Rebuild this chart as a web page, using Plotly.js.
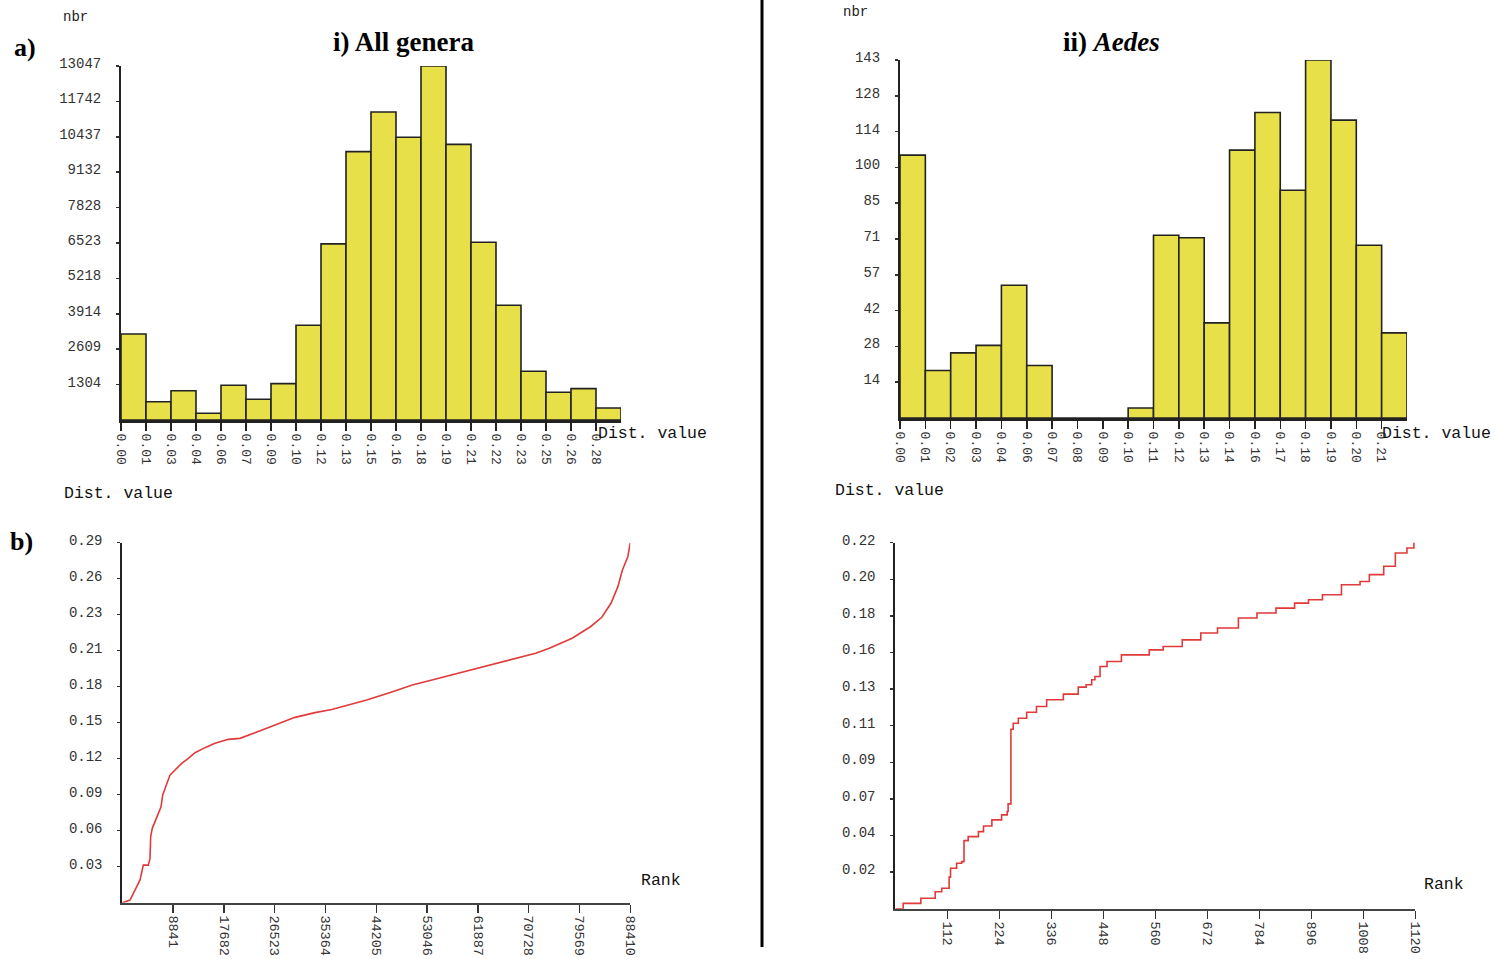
<!DOCTYPE html>
<html>
<head>
<meta charset="utf-8">
<script src="https://cdn.plot.ly/plotly-3.0.1.min.js"></script>
<style>
  html, body { margin: 0; padding: 0; background: #fff; }
  #chart { width: 1495px; height: 959px; }
</style>
</head>
<body>
<div id="chart"></div>
<script>
// ---------- DATA ----------
// a) i) All genera : histogram of distance values
const histA_bins = ['0.00','0.01','0.03','0.04','0.06','0.07','0.09','0.10','0.12','0.13',
                    '0.15','0.16','0.18','0.19','0.21','0.22','0.23','0.25','0.26','0.28'];
const histA_counts = [3170, 675, 1080, 247, 1280, 763, 1340, 3490, 6490, 9890,
                      11350, 10420, 13047, 10160, 6550, 4230, 1795, 1020, 1155, 440];
const histA_yticks = [1304.7, 2609.4, 3914.1, 5218.8, 6523.5, 7828.2, 9132.9, 10437.6, 11742.3, 13047];
const histA_ytext  = ['1304','2609','3914','5218','6523','7828','9132','10437','11742','13047'];

// a) ii) Aedes : histogram of distance values
const histB_bins = ['0.00','0.01','0.02','0.03','0.04','0.06','0.07','0.08','0.09','0.10',
                    '0.11','0.12','0.13','0.14','0.16','0.17','0.18','0.19','0.20','0.21'];
const histB_counts = [105, 19, 26, 29, 53, 21, 0, 0, 0, 4,
                      73, 72, 38, 107, 122, 91, 143, 119, 69, 34];
const histB_yticks = [14.3, 28.6, 42.9, 57.2, 71.5, 85.8, 100.1, 114.4, 128.7, 143];
const histB_ytext  = ['14','28','42','57','71','85','100','114','128','143'];

// b) i) All genera : ranked distance values
const rankA = [0, 1340, 2210, 3080, 3660, 4530, 4820, 4940, 5220, 5990, 6740, 7030, 7730, 8300,
               9170, 10340, 11490, 12650, 14390, 16130, 18450, 20480, 23090, 26000, 30060, 33540,
               36440, 39330, 42530, 46500, 50470, 54400, 58410, 63190, 66380, 71940, 74310, 78290,
               81470, 83450, 85050, 86250, 87040, 87980, 88410];
const distA = [0, 0.0021, 0.0102, 0.0183, 0.0303, 0.0303, 0.0357, 0.0532, 0.0599, 0.0693, 0.0773,
               0.0867, 0.0948, 0.1028, 0.1069, 0.1122, 0.1163, 0.1208, 0.1249, 0.1284, 0.1316,
               0.1324, 0.1369, 0.1423, 0.1493, 0.1531, 0.1557, 0.1592, 0.1633, 0.1692, 0.1754,
               0.1800, 0.1848, 0.1901, 0.1941, 0.2009, 0.2049, 0.2130, 0.2223, 0.2299, 0.2412,
               0.2546, 0.2680, 0.2787, 0.2900];
const rankA_ticks = [8841, 17682, 26523, 35364, 44205, 53046, 61887, 70728, 79569, 88410];
const rankA_text  = ['8841','17682','26523','35364','44205','53046','61887','70728','79569','88410'];
const distA_ticks = [0.029, 0.058, 0.087, 0.116, 0.145, 0.174, 0.203, 0.232, 0.261, 0.29];
const distA_text  = ['0.03','0.06','0.09','0.12','0.15','0.18','0.21','0.23','0.26','0.29'];

// b) ii) Aedes : ranked distance values (step levels)
const rankB = [0, 17, 55, 86, 100, 116, 119, 132, 143, 148, 157, 179, 190, 208, 229, 241, 243, 249,
               254, 265, 283, 304, 326, 362, 394, 411, 423, 430, 441, 456, 487, 547, 577, 618, 658,
               694, 739, 779, 820, 860, 890, 920, 961, 1001, 1021, 1052, 1077, 1102, 1117];
const distB = [0, 0.0032, 0.0063, 0.0102, 0.0123, 0.0190, 0.0243, 0.0273, 0.0283, 0.0409, 0.0433,
               0.0463, 0.0497, 0.0534, 0.0564, 0.0584, 0.0630, 0.1079, 0.1115, 0.1145, 0.1181,
               0.1215, 0.1256, 0.1290, 0.1332, 0.1346, 0.1376, 0.1396, 0.1456, 0.1486, 0.1526,
               0.1556, 0.1576, 0.1616, 0.1657, 0.1687, 0.1747, 0.1777, 0.1807, 0.1837, 0.1857,
               0.1887, 0.1947, 0.1967, 0.2008, 0.2058, 0.2138, 0.2168, 0.2208];
const rankB_ticks = [112, 224, 336, 448, 560, 672, 784, 896, 1008, 1120];
const rankB_text  = ['112','224','336','448','560','672','784','896','1008','1120'];
const distB_ticks = [0.022, 0.044, 0.066, 0.088, 0.11, 0.132, 0.154, 0.176, 0.198, 0.22];
const distB_text  = ['0.02','0.04','0.07','0.09','0.11','0.13','0.16','0.18','0.20','0.22'];

// ---------- LAYOUT HELPERS ----------
const W = 1495, H = 959;
const px = x => x / W;
const py = y => 1 - y / H;

const MONO = 'Liberation Mono, Courier New, monospace';
const SERIF = 'Liberation Serif, Times New Roman, serif';
const BAR_FILL = '#e8e048';
const LINE_RED = '#e03a3a';

function histX(domain, labels, anchor) {
  return {
    domain: domain, range: [0, labels.length], anchor: anchor,
    tickmode: 'array', tickvals: labels.map((_, i) => i), ticktext: labels,
    tickangle: 90, ticks: 'outside', ticklen: 8, tickwidth: 1.5, tickcolor: '#222',
    showline: true, linewidth: 3, linecolor: '#222',
    showgrid: false, zeroline: false,
    tickfont: {family: MONO, size: 13, color: '#333'}, fixedrange: true
  };
}
function valY(domain, range, vals, text, anchor, lw) {
  return {
    domain: domain, range: range, anchor: anchor,
    tickmode: 'array', tickvals: vals, ticktext: text,
    ticks: 'outside', ticklen: 3, tickwidth: 1.5, tickcolor: '#333',
    ticklabelstandoff: 12, ticklabelshift: -3,
    showline: true, linewidth: lw, linecolor: '#222',
    showgrid: false, zeroline: false,
    tickfont: {family: MONO, size: 14, color: '#333'}, fixedrange: true
  };
}
function rankX(domain, range, vals, text, anchor) {
  return {
    domain: domain, range: range, anchor: anchor,
    tickmode: 'array', tickvals: vals, ticktext: text,
    tickangle: 90, ticks: 'outside', ticklen: 8, tickwidth: 1.5, tickcolor: '#333',
    showline: true, linewidth: 2, linecolor: '#444',
    showgrid: false, zeroline: false, tickfont: {family: MONO, size: 13.5, color: '#333'},
    fixedrange: true
  };
}

// ---------- TRACES ----------
const traces = [
  {
    type: 'bar', x: histA_bins.map((_, i) => i), y: histA_counts,
    offset: 0, width: 1, xaxis: 'x', yaxis: 'y',
    marker: {color: BAR_FILL, line: {color: '#222', width: 1.6}},
    hoverinfo: 'skip'
  },
  {
    type: 'bar', x: histB_bins.map((_, i) => i), y: histB_counts,
    offset: 0, width: 1, xaxis: 'x2', yaxis: 'y2',
    marker: {color: BAR_FILL, line: {color: '#222', width: 1.6}},
    hoverinfo: 'skip'
  },
  {
    type: 'scatter', mode: 'lines', x: rankA, y: distA, xaxis: 'x3', yaxis: 'y3',
    line: {color: LINE_RED, width: 1.6}, cliponaxis: false, hoverinfo: 'skip'
  },
  {
    type: 'scatter', mode: 'lines', x: rankB, y: distB, xaxis: 'x4', yaxis: 'y4',
    line: {color: LINE_RED, width: 1.6, shape: 'hv'}, cliponaxis: false, hoverinfo: 'skip'
  }
];

// ---------- ANNOTATIONS ----------
function note(text, x, y, font, xanchor) {
  return {text: text, x: px(x), y: py(y), xref: 'paper', yref: 'paper',
          xanchor: xanchor || 'left', yanchor: 'middle', showarrow: false, font: font};
}
const labFont = {family: MONO, size: 16.5, color: '#111'};
const smallFont = {family: MONO, size: 14, color: '#222'};
const panelFont = {family: SERIF, size: 26, color: '#000', weight: 'bold'};
const titleFont = {family: SERIF, size: 27, color: '#000', weight: 'bold'};

const annotations = [
  note('nbr', 61, 17, smallFont),
  note('nbr', 841, 12, smallFont),
  note('Dist. value', 596, 433, labFont),
  note('Dist. value', 1380, 433, labFont),
  note('Dist. value', 62, 493, labFont),
  note('Dist. value', 833, 490, labFont),
  note('Rank', 639, 880, labFont),
  note('Rank', 1422, 884, labFont),
  note('<b>a)</b>', 12, 47, panelFont),
  note('<b>b)</b>', 8, 541, panelFont),
  note('<b>i) All genera</b>', 403, 42, titleFont, 'center'),
  note('<b>ii) <i>Aedes</i></b>', 1111, 42, titleFont, 'center')
];

const layout = {
  width: W, height: H,
  margin: {l: 0, r: 0, t: 0, b: 0, autoexpand: false},
  paper_bgcolor: '#fff', plot_bgcolor: 'rgba(0,0,0,0)',
  showlegend: false,
  xaxis:  histX([px(121), px(621)], histA_bins, 'y'),
  yaxis:  valY([py(420), py(66)], [0, 13047], histA_yticks, histA_ytext, 'x', 2),
  xaxis2: histX([px(900), px(1407)], histB_bins, 'y2'),
  yaxis2: valY([py(418), py(60)], [0, 143], histB_yticks, histB_ytext, 'x2', 2),
  xaxis3: rankX([px(122.3), px(630.3)], [0, 88410], rankA_ticks, rankA_text, 'y3'),
  yaxis3: valY([py(902.7), py(542.7)], [0, 0.29], distA_ticks, distA_text, 'x3', 2),
  xaxis4: rankX([px(895.3), px(1415.3)], [0, 1120], rankB_ticks, rankB_text, 'y4'),
  yaxis4: valY([py(908.7), py(542.7)], [0, 0.22], distB_ticks, distB_text, 'x4', 2),
  annotations: annotations,
  shapes: [
    {type: 'line', xref: 'paper', yref: 'paper', x0: px(762), x1: px(762), y0: py(0), y1: py(947),
     line: {color: '#000', width: 3}}
  ]
};

Plotly.newPlot('chart', traces, layout, {staticPlot: true, displayModeBar: false});
</script>
</body>
</html>
